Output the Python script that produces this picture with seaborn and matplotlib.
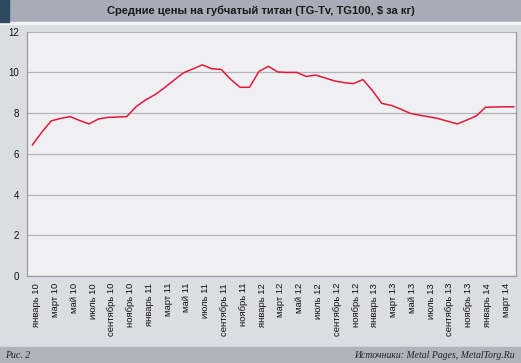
import numpy as np
import pandas as pd
import matplotlib
matplotlib.use("Agg")
import matplotlib.pyplot as plt
import seaborn as sns

# monthly prices, январь 2010 .. апрель 2014 ($/kg)
prices = [6.43, 7.06, 7.62, 7.74, 7.83, 7.64, 7.47, 7.71, 7.79, 7.81, 7.83, 8.32,
          8.65, 8.91, 9.25, 9.62, 9.98, 10.17, 10.37, 10.18, 10.15, 9.66, 9.27, 9.27,
          10.05, 10.30, 10.02, 10.00, 10.00, 9.80, 9.87, 9.73, 9.58, 9.50, 9.45, 9.65,
          9.12, 8.48, 8.38, 8.20, 7.99, 7.90, 7.82, 7.73, 7.60, 7.47, 7.66, 7.86,
          8.29, 8.30, 8.31, 8.31]
month_names = ["январь", "март", "май", "июль", "сентябрь", "ноябрь"]
years = ["10", "11", "12", "13", "14"]
tick_labels = [f"{m} {y}" for y in years for m in month_names][:26]

title = "Средние цены на губчатый титан (TG-Tv, TG100, $ за кг)"
fig_label = "Рис. 2"
source = "Источники: Metal Pages, MetalTorg.Ru"

df = pd.DataFrame({"month": np.arange(len(prices)), "price": prices})

sns.set_style("white")
plt.rcParams["font.family"] = ["Liberation Sans", "DejaVu Sans"]

W, H = 521, 363
fig = plt.figure(figsize=(W / 100, H / 100), dpi=100)
fig.patch.set_facecolor("#dcdde2")

# header and footer bars
fig.add_artist(plt.Rectangle((0, 1 - 22 / H), 1, 22 / H, transform=fig.transFigure,
                             color="#a9abb7", zorder=0))
fig.add_artist(plt.Rectangle((0, 1 - 22 / H), 9 / W, 22 / H, transform=fig.transFigure,
                             color="#2d4a62", zorder=1))
fig.add_artist(plt.Rectangle((0, 1 - 24 / H), 1, 2 / H, transform=fig.transFigure,
                             color="#f4f4f6", zorder=0))
fig.add_artist(plt.Rectangle((0, 0), 1, 16 / H, transform=fig.transFigure,
                             color="#b0b2bc", zorder=0))
fig.text(0.5, 1 - 11 / H, title, ha="center", va="center", fontsize=8,
         fontweight="bold", color="#1a1a1a")
fig.text(5 / W, 8 / H, fig_label, ha="left", va="center", fontsize=7,
         family=["Liberation Serif"], style="italic", color="#222222")
fig.text(515 / W, 8 / H, source, ha="right", va="center", fontsize=7,
         family=["Liberation Serif"], style="italic", color="#222222")

ax = fig.add_axes([27.3 / W, (H - 276) / H, (515.7 - 27.3) / W, (276 - 31.7) / H])
ax.set_facecolor("#f0f0f2")

sns.lineplot(data=df, x="month", y="price", ax=ax, color="#e3173a", lw=1.1)

xmin, xmax = -0.53, len(prices) - 1 + 0.18
ax.set_xlim(xmin, xmax)
ax.set_ylim(0, 12)
ax.set_yticks(range(0, 13, 2))
ax.yaxis.grid(True, color="#b4b4b8", lw=0.9)
ax.set_axisbelow(True)

edges = np.linspace(xmin, xmax, 27)
ax.set_xticks(edges)
ax.set_xticklabels([])
ax.set_xticks((edges[:-1] + edges[1:]) / 2, minor=True)
ax.set_xticklabels(tick_labels, minor=True, rotation=90, fontsize=6.8, color="#111111")
ax.tick_params(axis="x", which="major", length=4, color="#9a9aa0", width=0.8)
ax.tick_params(axis="x", which="minor", length=0, pad=5)
ax.tick_params(axis="y", length=3, color="#b4b4b8", labelsize=7, labelcolor="#111111", pad=3)

ax.spines["top"].set_visible(False)
for side in ["left", "right", "bottom"]:
    ax.spines[side].set_color("#9a9aa0")
    ax.spines[side].set_linewidth(0.9)

ax.set_xlabel("")
ax.set_ylabel("")

fig.savefig("out.png", dpi=100, facecolor=fig.get_facecolor())
